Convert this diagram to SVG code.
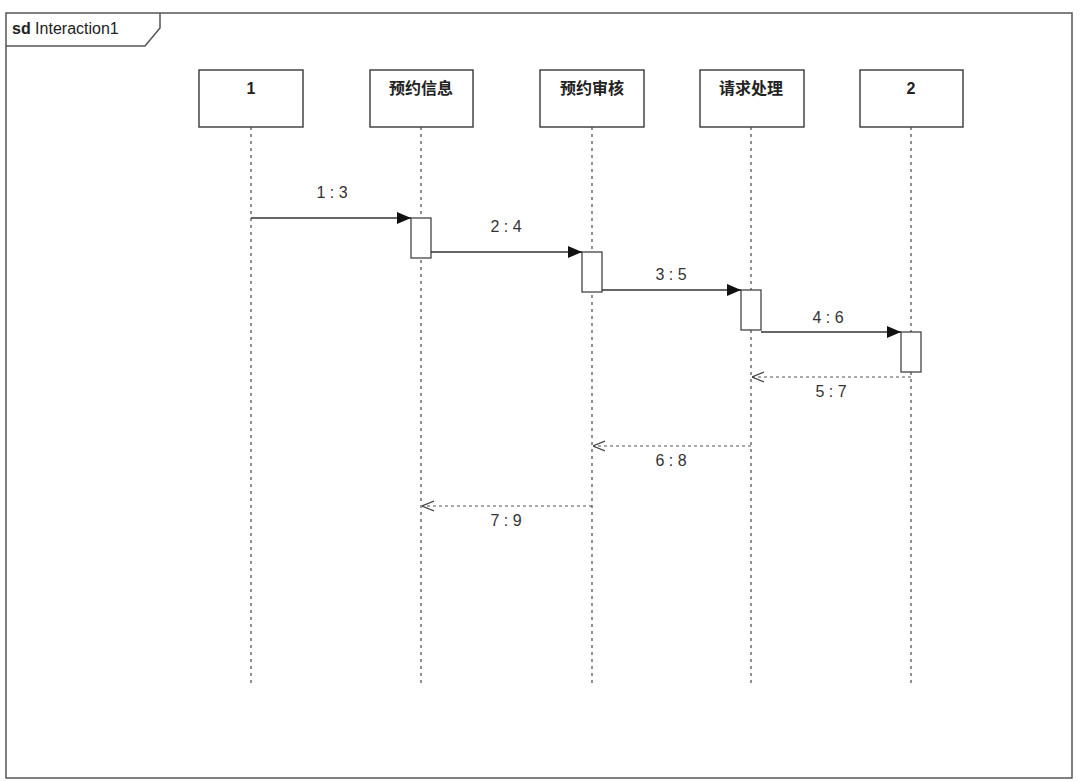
<svg xmlns="http://www.w3.org/2000/svg" width="1080" height="782" viewBox="0 0 1080 782">
<style>
.box{fill:#fff;stroke:#444;stroke-width:1.5}
.life{stroke:#555;stroke-width:1.3;stroke-dasharray:3,4}
.act{fill:#fff;stroke:#444;stroke-width:1.3}
.msg{stroke:#333;stroke-width:1.5;fill:none}
.ret{stroke:#555;stroke-width:1.2;fill:none;stroke-dasharray:3,3}
.t{font-family:"Liberation Sans","Noto Sans CJK SC",sans-serif;font-size:16px;fill:#333;text-anchor:middle}
.n{font-family:"Liberation Sans","Noto Sans CJK SC",sans-serif;font-size:16px;font-weight:bold;fill:#222;text-anchor:middle}
</style>
<defs>
<marker id="fa" markerWidth="14" markerHeight="12" refX="14" refY="6" orient="auto" markerUnits="userSpaceOnUse"><path d="M0,0 L14,6 L0,12 Z" fill="#111"/></marker>
<marker id="oa" markerWidth="12" markerHeight="12" refX="12" refY="6" orient="auto" markerUnits="userSpaceOnUse"><path d="M0,1 L12,6 L0,11" fill="none" stroke="#444" stroke-width="1.2"/></marker>
</defs>
<rect width="1080" height="782" fill="#fff"/>
<g id="frame">
<rect x="6" y="13" width="1066" height="765" fill="none" stroke="#555" stroke-width="1.5"/>
<path d="M6,46 L145,46 L160,28 L160,13" fill="none" stroke="#555" stroke-width="1.5"/>
<text x="12" y="34" font-family="Liberation Sans,sans-serif" font-size="16" fill="#222"><tspan font-weight="bold">sd</tspan> Interaction1</text>
</g>
<g id="lifelines">
<line class="life" x1="251" y1="127" x2="251" y2="686"/>
<line class="life" x1="421" y1="127" x2="421" y2="686"/>
<line class="life" x1="592" y1="127" x2="592" y2="686"/>
<line class="life" x1="751" y1="127" x2="751" y2="686"/>
<line class="life" x1="911" y1="127" x2="911" y2="686"/>
</g>
<g id="n1"><rect class="box" x="199" y="70" width="104" height="57"/><text class="n" x="251" y="94">1</text></g>
<g id="n2"><rect class="box" x="370" y="70" width="103" height="57"/><text class="n" x="421" y="94">预约信息</text></g>
<g id="n3"><rect class="box" x="540" y="70" width="104" height="57"/><text class="n" x="592" y="94">预约审核</text></g>
<g id="n4"><rect class="box" x="700" y="70" width="104" height="57"/><text class="n" x="751" y="94">请求处理</text></g>
<g id="n5"><rect class="box" x="860" y="70" width="103" height="57"/><text class="n" x="911" y="94">2</text></g>
<g id="activations">
<rect class="act" x="411" y="218" width="20" height="40"/>
<rect class="act" x="582" y="252" width="20" height="40"/>
<rect class="act" x="741" y="290" width="20" height="40"/>
<rect class="act" x="901" y="332" width="20" height="40"/>
</g>
<g id="connectors">
<line class="msg" x1="251" y1="218" x2="411" y2="218" marker-end="url(#fa)"/>
<line class="msg" x1="431" y1="252" x2="582" y2="252" marker-end="url(#fa)"/>
<line class="msg" x1="602" y1="290" x2="741" y2="290" marker-end="url(#fa)"/>
<line class="msg" x1="761" y1="332" x2="901" y2="332" marker-end="url(#fa)"/>
<line class="ret" x1="911" y1="377" x2="752" y2="377" marker-end="url(#oa)"/>
<line class="ret" x1="751" y1="446" x2="593" y2="446" marker-end="url(#oa)"/>
<line class="ret" x1="592" y1="506" x2="422" y2="506" marker-end="url(#oa)"/>
<text class="t" x="332" y="198">1 : 3</text>
<text class="t" x="506" y="232">2 : 4</text>
<text class="t" x="671" y="280">3 : 5</text>
<text class="t" x="828" y="323">4 : 6</text>
<text class="t" x="831" y="397">5 : 7</text>
<text class="t" x="671" y="466">6 : 8</text>
<text class="t" x="506" y="526">7 : 9</text>
</g>
</svg>
